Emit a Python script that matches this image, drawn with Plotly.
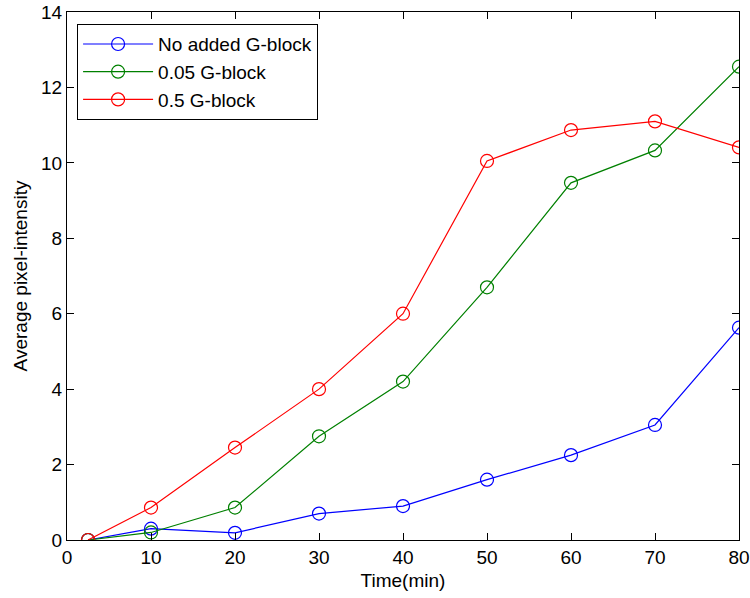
import plotly.graph_objects as go

time = [2.5, 10, 20, 30, 40, 50, 60, 70, 80]
no_added = [0, 0.3, 0.19, 0.7, 0.9, 1.6, 2.25, 3.05, 5.63]
g005 = [0, 0.2, 0.86, 2.75, 4.2, 6.7, 9.47, 10.33, 12.55]
g05 = [0, 0.86, 2.45, 4.0, 6.0, 10.05, 10.87, 11.1, 10.41]

series = [
    ("No added G-block", no_added, "#0000FF"),
    ("0.05 G-block", g005, "#008000"),
    ("0.5 G-block", g05, "#FF0000"),
]

fig = go.Figure()
for name, vals, col in series:
    fig.add_trace(go.Scatter(
        x=time, y=vals, name=name, mode="lines+markers",
        line=dict(color=col, width=1.2),
        marker=dict(symbol="circle-open", size=13, color=col, line=dict(width=1.2, color=col)),
    ))

font = dict(family="Liberation Sans, Arial, sans-serif", size=19, color="#000000")
axis_common = dict(
    showgrid=False, zeroline=False, showline=True, linecolor="#000000", linewidth=1,
    mirror="ticks", ticks="inside", ticklen=7, tickcolor="#000000", tickfont=font,
    automargin=False,
)
fig.update_layout(
    width=750, height=598,
    margin=dict(l=67, r=11, t=12, b=58),
    paper_bgcolor="#FFFFFF", plot_bgcolor="#FFFFFF",
    font=font,
    showlegend=True,
    legend=dict(
        x=0.015, y=0.977, xanchor="left", yanchor="top",
        bordercolor="#000000", borderwidth=1, bgcolor="#FFFFFF",
        font=font, itemwidth=70, tracegroupgap=0,
    ),
    xaxis=dict(range=[0, 80], tickvals=list(range(0, 81, 10)),
               title=dict(text="Time(min)", font=font, standoff=6), **axis_common),
    yaxis=dict(range=[0, 14], tickvals=list(range(0, 15, 2)),
               title=dict(text="Average pixel-intensity", font=font, standoff=8), **axis_common),
)
fig.write_html("out.html")
